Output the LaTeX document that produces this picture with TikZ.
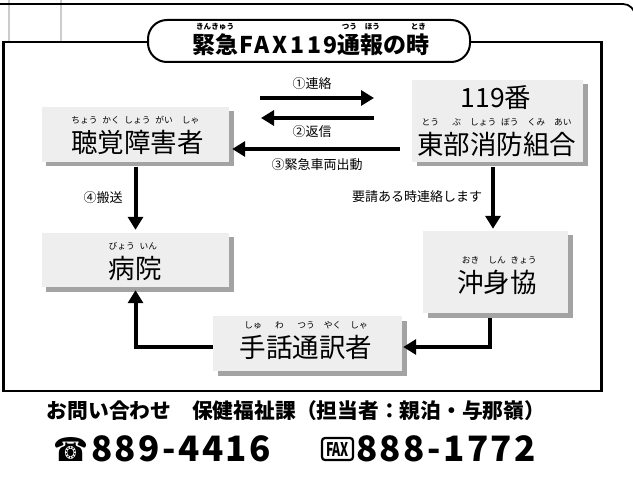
\documentclass[tikz,border=0pt]{standalone}
\usepackage{fontspec}
\usepackage{graphicx}
\setmainfont{Noto Sans CJK JP}
\newfontfamily\numfont{Noto Sans CJK JP}[LetterSpace=7]
\newfontfamily\dejavu{DejaVu Sans}
\usetikzlibrary{arrows.meta,shadows,calc}
\definecolor{boxgray}{HTML}{EEEEEE}
\definecolor{shgray}{HTML}{A3A3A3}
\definecolor{lightline}{HTML}{CCCCCC}
\newcommand\rb[2]{\leavevmode\setbox0\hbox{#1}\dimen2=0.33em\relax
  \makebox[\wd0]{\raisebox{1.07em}[0pt][0pt]{\fontsize{\the\dimen2}{\the\dimen2}\selectfont #2}}\kern-\wd0\box0}
\begin{document}
\begin{tikzpicture}[x=1bp,y=-1bp,
  box/.style={fill=boxgray, inner sep=0pt, general shadow={fill=shgray, shadow xshift=4.5bp, shadow yshift=-4.5bp}},
  big/.style={font=\fontsize{26.5bp}{30bp}\selectfont, inner sep=0pt},
  lab/.style={font=\fontsize{13bp}{15bp}\selectfont, inner sep=0pt},
  arr/.style={line width=4bp, -{Triangle[length=13bp,width=15bp]}},
  frame/.style={line width=2.2bp}]
\useasboundingbox (0,0) rectangle (633,485);
% page artefacts
\draw[lightline, line width=1.5bp] (9,0) -- (9,42);
\draw[lightline, line width=1.5bp] (61,0) -- (61,42);
\draw[line width=1.8bp] (0,4) -- (623,4) arc[start angle=-90, end angle=0, radius=12] -- (635,485);
% main frame
\draw[frame] (3.5,42) rectangle (601.5,391);
% title
\node[draw, line width=2bp, fill=white, rounded corners=19bp, minimum width=322bp, minimum height=42bp, inner sep=0pt] (pill) at (309,41) {};
\node[font=\fontsize{23bp}{26bp}\selectfont\bfseries, inner sep=0pt] (ttl) at (311,45)
  {\rb{緊急}{きんきゅう}\kern1bp{\addfontfeatures{LetterSpace=12}FAX119}\rb{通}{つう}\rb{報}{ほう}の\rb{時}{とき}};
% boxes
\node[box, minimum width=187bp, minimum height=55bp] (A) at (135.5,134.5) {};
\node[box, minimum width=171bp, minimum height=82bp] (B) at (497.5,121) {};
\node[box, minimum width=145bp, minimum height=82bp] (C) at (495.5,272) {};
\node[box, minimum width=189bp, minimum height=55bp] (D) at (307.5,343.5) {};
\node[box, minimum width=187bp, minimum height=54bp] (E) at (135.5,260) {};
% box texts
\node[big] (tA) at (137.5,142) {\rb{聴}{ちょう}\rb{覚}{かく}\rb{障}{しょう}\rb{害}{がい}\rb{者}{しゃ}};
\node[big] (tB1) at (496,98) {119番};
\node[big] (tB2) at (496.5,144) {\rb{東}{とう}\rb{部}{ぶ}\rb{消}{しょう}\rb{防}{ぼう}\rb{組}{くみ}\rb{合}{あい}};
\node[big] (tC) at (497,282) {\rb{沖}{おき}\rb{身}{しん}\rb{協}{きょう}};
\node[big] (tD) at (306,347) {\rb{手}{しゅ}\rb{話}{わ}\rb{通}{つう}\rb{訳}{やく}\rb{者}{しゃ}};
\node[big] (tE) at (135,268) {\rb{病}{びょう}\rb{院}{いん}};
% arrows between A and B
\coordinate (c1s) at (260,98);
\coordinate (c1e) at (374,98);
\draw[arr] (c1s) -- (c1e);
\coordinate (c2s) at (374,118);
\coordinate (c2e) at (261,118);
\draw[arr] (c2s) -- (c2e);
\coordinate (c3s) at (400,149);
\coordinate (c3e) at ($(A.east |- c3s)+(3,0)$);
\draw[arr] (c3s) -- (c3e);
\node[lab] (l1) at (312,84) {①連絡};
\node[lab] (l2) at (312,132) {②返信};
\node[lab] (l3) at (317,165) {③緊急車両出動};
% A -> E
\draw[arr] ($(A.south)+(0,4.5)$) -- ($(E.north)+(0,-3)$);
\node[lab] (l4) at (103,198) {④搬送};
% B -> C
\coordinate (bc1) at ($(B.south)+(-4.5,5)$);
\coordinate (bc2) at ($(C.north)+(0,-2)$);
\draw[arr] (bc1) -- (bc1 |- bc2);
\node[lab] (l5) at (417,197) {要請ある時連絡します};
% C -> D
\coordinate (cd1) at ($(C.south)+(-5.5,5)$);
\coordinate (cd2) at ($(D.east)+(1,3.5)$);
\draw[arr] (cd1) |- (cd2);
% D -> E
\coordinate (de1) at ($(D.west)+(0,3.5)$);
\coordinate (de2) at ($(E.south)+(0,3)$);
\draw[arr] (de1) -| (de2);
% footer
\node[inner sep=0pt, font=\fontsize{20bp}{24bp}\selectfont\bfseries] (info) at (296,411)
  {\resizebox{498bp}{!}{お問い合わせ　保健福祉課（担当者：親泊・与那嶺）}};
\node[inner sep=0pt] (tel) at (71.5,449) {\resizebox{35bp}{24bp}{\dejavu ☎}};
\node[inner sep=0pt, anchor=west, font=\numfont\fontsize{35bp}{38bp}\selectfont\bfseries] (num1) at (91,449) {889-4416};
\node[draw, line width=2.2bp, rounded corners=3bp, minimum width=31bp, minimum height=22bp, inner sep=0pt] (fax) at (337.5,449)
  {\resizebox{23bp}{14bp}{\bfseries FAX}};
\node[inner sep=0pt, anchor=west, font=\numfont\fontsize{35bp}{38bp}\selectfont\bfseries] (num2) at (356,449) {888-1772};
\end{tikzpicture}
\end{document}
